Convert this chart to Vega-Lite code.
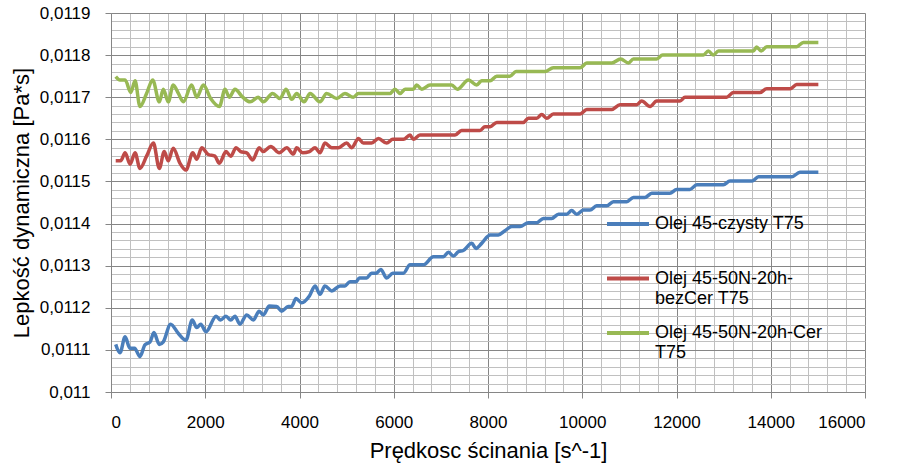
{
 "$schema": "https://vega.github.io/schema/vega-lite/v6.json",
 "width": 754, "height": 379,
 "autosize": {"type": "none"},
 "padding": {"left": 111, "top": 13, "right": 41, "bottom": 79},
 "background": "white",
 "config": {
  "locale": {"number": {"decimal": ",", "thousands": "", "grouping": [3], "currency": ["", ""]}},
  "font": "Liberation Sans",
  "view": {"stroke": null}
 },
 "datasets": {
  "pts": [
   {"x":100,"y":0.011113,"s":"Olej 45-czysty T75"},{"x":190,"y":0.011093,"s":"Olej 45-czysty T75"},{"x":300,"y":0.011131,"s":"Olej 45-czysty T75"},{"x":400,"y":0.011104,"s":"Olej 45-czysty T75"},{"x":500,"y":0.011104,"s":"Olej 45-czysty T75"},{"x":615,"y":0.011084,"s":"Olej 45-czysty T75"},{"x":720,"y":0.011112,"s":"Olej 45-czysty T75"},{"x":830,"y":0.011119,"s":"Olej 45-czysty T75"},{"x":910,"y":0.011141,"s":"Olej 45-czysty T75"},{"x":1025,"y":0.011113,"s":"Olej 45-czysty T75"},{"x":1110,"y":0.011119,"s":"Olej 45-czysty T75"},{"x":1265,"y":0.011161,"s":"Olej 45-czysty T75"},{"x":1430,"y":0.011139,"s":"Olej 45-czysty T75"},{"x":1590,"y":0.011123,"s":"Olej 45-czysty T75"},{"x":1725,"y":0.011171,"s":"Olej 45-czysty T75"},{"x":1820,"y":0.011153,"s":"Olej 45-czysty T75"},{"x":1905,"y":0.011161,"s":"Olej 45-czysty T75"},{"x":2015,"y":0.011143,"s":"Olej 45-czysty T75"},{"x":2230,"y":0.01118,"s":"Olej 45-czysty T75"},{"x":2325,"y":0.011171,"s":"Olej 45-czysty T75"},{"x":2440,"y":0.01118,"s":"Olej 45-czysty T75"},{"x":2540,"y":0.011171,"s":"Olej 45-czysty T75"},{"x":2630,"y":0.01118,"s":"Olej 45-czysty T75"},{"x":2735,"y":0.011161,"s":"Olej 45-czysty T75"},{"x":2880,"y":0.011183,"s":"Olej 45-czysty T75"},{"x":3020,"y":0.011171,"s":"Olej 45-czysty T75"},{"x":3145,"y":0.011192,"s":"Olej 45-czysty T75"},{"x":3230,"y":0.011183,"s":"Olej 45-czysty T75"},{"x":3360,"y":0.011204,"s":"Olej 45-czysty T75"},{"x":3515,"y":0.011203,"s":"Olej 45-czysty T75"},{"x":3620,"y":0.011192,"s":"Olej 45-czysty T75"},{"x":3760,"y":0.011203,"s":"Olej 45-czysty T75"},{"x":3830,"y":0.011203,"s":"Olej 45-czysty T75"},{"x":3925,"y":0.011222,"s":"Olej 45-czysty T75"},{"x":4045,"y":0.011212,"s":"Olej 45-czysty T75"},{"x":4210,"y":0.011228,"s":"Olej 45-czysty T75"},{"x":4330,"y":0.011252,"s":"Olej 45-czysty T75"},{"x":4435,"y":0.011232,"s":"Olej 45-czysty T75"},{"x":4540,"y":0.011252,"s":"Olej 45-czysty T75"},{"x":4685,"y":0.01124,"s":"Olej 45-czysty T75"},{"x":4860,"y":0.011252,"s":"Olej 45-czysty T75"},{"x":4965,"y":0.011252,"s":"Olej 45-czysty T75"},{"x":5070,"y":0.011262,"s":"Olej 45-czysty T75"},{"x":5200,"y":0.011262,"s":"Olej 45-czysty T75"},{"x":5270,"y":0.011271,"s":"Olej 45-czysty T75"},{"x":5425,"y":0.011271,"s":"Olej 45-czysty T75"},{"x":5530,"y":0.011282,"s":"Olej 45-czysty T75"},{"x":5625,"y":0.011282,"s":"Olej 45-czysty T75"},{"x":5725,"y":0.011291,"s":"Olej 45-czysty T75"},{"x":5850,"y":0.011271,"s":"Olej 45-czysty T75"},{"x":5980,"y":0.011282,"s":"Olej 45-czysty T75"},{"x":6205,"y":0.011282,"s":"Olej 45-czysty T75"},{"x":6345,"y":0.011302,"s":"Olej 45-czysty T75"},{"x":6630,"y":0.011302,"s":"Olej 45-czysty T75"},{"x":6840,"y":0.011321,"s":"Olej 45-czysty T75"},{"x":7050,"y":0.011321,"s":"Olej 45-czysty T75"},{"x":7160,"y":0.011332,"s":"Olej 45-czysty T75"},{"x":7265,"y":0.011323,"s":"Olej 45-czysty T75"},{"x":7370,"y":0.011333,"s":"Olej 45-czysty T75"},{"x":7475,"y":0.011336,"s":"Olej 45-czysty T75"},{"x":7655,"y":0.011353,"s":"Olej 45-czysty T75"},{"x":7745,"y":0.011341,"s":"Olej 45-czysty T75"},{"x":7865,"y":0.011353,"s":"Olej 45-czysty T75"},{"x":8045,"y":0.011373,"s":"Olej 45-czysty T75"},{"x":8220,"y":0.011373,"s":"Olej 45-czysty T75"},{"x":8360,"y":0.011383,"s":"Olej 45-czysty T75"},{"x":8505,"y":0.011393,"s":"Olej 45-czysty T75"},{"x":8680,"y":0.011393,"s":"Olej 45-czysty T75"},{"x":8855,"y":0.011402,"s":"Olej 45-czysty T75"},{"x":9035,"y":0.011402,"s":"Olej 45-czysty T75"},{"x":9175,"y":0.011412,"s":"Olej 45-czysty T75"},{"x":9350,"y":0.011412,"s":"Olej 45-czysty T75"},{"x":9495,"y":0.011422,"s":"Olej 45-czysty T75"},{"x":9670,"y":0.011422,"s":"Olej 45-czysty T75"},{"x":9775,"y":0.011431,"s":"Olej 45-czysty T75"},{"x":9880,"y":0.011422,"s":"Olej 45-czysty T75"},{"x":10025,"y":0.011432,"s":"Olej 45-czysty T75"},{"x":10165,"y":0.011432,"s":"Olej 45-czysty T75"},{"x":10305,"y":0.011442,"s":"Olej 45-czysty T75"},{"x":10520,"y":0.011442,"s":"Olej 45-czysty T75"},{"x":10660,"y":0.011452,"s":"Olej 45-czysty T75"},{"x":10945,"y":0.011452,"s":"Olej 45-czysty T75"},{"x":11085,"y":0.011462,"s":"Olej 45-czysty T75"},{"x":11330,"y":0.011462,"s":"Olej 45-czysty T75"},{"x":11475,"y":0.011472,"s":"Olej 45-czysty T75"},{"x":11860,"y":0.011472,"s":"Olej 45-czysty T75"},{"x":12005,"y":0.011481,"s":"Olej 45-czysty T75"},{"x":12285,"y":0.011481,"s":"Olej 45-czysty T75"},{"x":12430,"y":0.011492,"s":"Olej 45-czysty T75"},{"x":12995,"y":0.011492,"s":"Olej 45-czysty T75"},{"x":13135,"y":0.011501,"s":"Olej 45-czysty T75"},{"x":13600,"y":0.011501,"s":"Olej 45-czysty T75"},{"x":13740,"y":0.011511,"s":"Olej 45-czysty T75"},{"x":14445,"y":0.011511,"s":"Olej 45-czysty T75"},{"x":14620,"y":0.011522,"s":"Olej 45-czysty T75"},{"x":15010,"y":0.011522,"s":"Olej 45-czysty T75"},
   {"x":100,"y":0.011549,"s":"Olej 45-50N-20h-bezCer T75"},{"x":205,"y":0.011549,"s":"Olej 45-50N-20h-bezCer T75"},{"x":300,"y":0.011568,"s":"Olej 45-50N-20h-bezCer T75"},{"x":405,"y":0.011541,"s":"Olej 45-50N-20h-bezCer T75"},{"x":510,"y":0.011568,"s":"Olej 45-50N-20h-bezCer T75"},{"x":615,"y":0.011531,"s":"Olej 45-50N-20h-bezCer T75"},{"x":755,"y":0.01156,"s":"Olej 45-50N-20h-bezCer T75"},{"x":900,"y":0.011591,"s":"Olej 45-50N-20h-bezCer T75"},{"x":1025,"y":0.011531,"s":"Olej 45-50N-20h-bezCer T75"},{"x":1130,"y":0.011571,"s":"Olej 45-50N-20h-bezCer T75"},{"x":1215,"y":0.011549,"s":"Olej 45-50N-20h-bezCer T75"},{"x":1320,"y":0.011579,"s":"Olej 45-50N-20h-bezCer T75"},{"x":1465,"y":0.011543,"s":"Olej 45-50N-20h-bezCer T75"},{"x":1590,"y":0.011527,"s":"Olej 45-50N-20h-bezCer T75"},{"x":1735,"y":0.011568,"s":"Olej 45-50N-20h-bezCer T75"},{"x":1820,"y":0.011553,"s":"Olej 45-50N-20h-bezCer T75"},{"x":1925,"y":0.01158,"s":"Olej 45-50N-20h-bezCer T75"},{"x":2065,"y":0.011564,"s":"Olej 45-50N-20h-bezCer T75"},{"x":2205,"y":0.01156,"s":"Olej 45-50N-20h-bezCer T75"},{"x":2300,"y":0.011543,"s":"Olej 45-50N-20h-bezCer T75"},{"x":2440,"y":0.011571,"s":"Olej 45-50N-20h-bezCer T75"},{"x":2540,"y":0.01156,"s":"Olej 45-50N-20h-bezCer T75"},{"x":2655,"y":0.01158,"s":"Olej 45-50N-20h-bezCer T75"},{"x":2750,"y":0.011571,"s":"Olej 45-50N-20h-bezCer T75"},{"x":2880,"y":0.011568,"s":"Olej 45-50N-20h-bezCer T75"},{"x":3005,"y":0.011551,"s":"Olej 45-50N-20h-bezCer T75"},{"x":3145,"y":0.01158,"s":"Olej 45-50N-20h-bezCer T75"},{"x":3230,"y":0.011571,"s":"Olej 45-50N-20h-bezCer T75"},{"x":3390,"y":0.011583,"s":"Olej 45-50N-20h-bezCer T75"},{"x":3570,"y":0.011568,"s":"Olej 45-50N-20h-bezCer T75"},{"x":3730,"y":0.01158,"s":"Olej 45-50N-20h-bezCer T75"},{"x":3870,"y":0.011565,"s":"Olej 45-50N-20h-bezCer T75"},{"x":3940,"y":0.01158,"s":"Olej 45-50N-20h-bezCer T75"},{"x":4070,"y":0.011568,"s":"Olej 45-50N-20h-bezCer T75"},{"x":4210,"y":0.011571,"s":"Olej 45-50N-20h-bezCer T75"},{"x":4330,"y":0.01158,"s":"Olej 45-50N-20h-bezCer T75"},{"x":4435,"y":0.011568,"s":"Olej 45-50N-20h-bezCer T75"},{"x":4540,"y":0.011591,"s":"Olej 45-50N-20h-bezCer T75"},{"x":4685,"y":0.01158,"s":"Olej 45-50N-20h-bezCer T75"},{"x":4825,"y":0.01158,"s":"Olej 45-50N-20h-bezCer T75"},{"x":5000,"y":0.011591,"s":"Olej 45-50N-20h-bezCer T75"},{"x":5110,"y":0.01158,"s":"Olej 45-50N-20h-bezCer T75"},{"x":5250,"y":0.011602,"s":"Olej 45-50N-20h-bezCer T75"},{"x":5355,"y":0.011591,"s":"Olej 45-50N-20h-bezCer T75"},{"x":5530,"y":0.011591,"s":"Olej 45-50N-20h-bezCer T75"},{"x":5675,"y":0.011602,"s":"Olej 45-50N-20h-bezCer T75"},{"x":5850,"y":0.011591,"s":"Olej 45-50N-20h-bezCer T75"},{"x":5980,"y":0.0116,"s":"Olej 45-50N-20h-bezCer T75"},{"x":6205,"y":0.0116,"s":"Olej 45-50N-20h-bezCer T75"},{"x":6345,"y":0.01161,"s":"Olej 45-50N-20h-bezCer T75"},{"x":6415,"y":0.0116,"s":"Olej 45-50N-20h-bezCer T75"},{"x":6555,"y":0.01161,"s":"Olej 45-50N-20h-bezCer T75"},{"x":7300,"y":0.01161,"s":"Olej 45-50N-20h-bezCer T75"},{"x":7440,"y":0.011621,"s":"Olej 45-50N-20h-bezCer T75"},{"x":7830,"y":0.011621,"s":"Olej 45-50N-20h-bezCer T75"},{"x":7935,"y":0.01163,"s":"Olej 45-50N-20h-bezCer T75"},{"x":8045,"y":0.01163,"s":"Olej 45-50N-20h-bezCer T75"},{"x":8185,"y":0.01164,"s":"Olej 45-50N-20h-bezCer T75"},{"x":8750,"y":0.01164,"s":"Olej 45-50N-20h-bezCer T75"},{"x":8855,"y":0.01165,"s":"Olej 45-50N-20h-bezCer T75"},{"x":9035,"y":0.01165,"s":"Olej 45-50N-20h-bezCer T75"},{"x":9140,"y":0.011659,"s":"Olej 45-50N-20h-bezCer T75"},{"x":9245,"y":0.01165,"s":"Olej 45-50N-20h-bezCer T75"},{"x":9385,"y":0.01166,"s":"Olej 45-50N-20h-bezCer T75"},{"x":9955,"y":0.01166,"s":"Olej 45-50N-20h-bezCer T75"},{"x":10095,"y":0.011671,"s":"Olej 45-50N-20h-bezCer T75"},{"x":10625,"y":0.011671,"s":"Olej 45-50N-20h-bezCer T75"},{"x":10800,"y":0.011682,"s":"Olej 45-50N-20h-bezCer T75"},{"x":11155,"y":0.011682,"s":"Olej 45-50N-20h-bezCer T75"},{"x":11260,"y":0.011691,"s":"Olej 45-50N-20h-bezCer T75"},{"x":11440,"y":0.011678,"s":"Olej 45-50N-20h-bezCer T75"},{"x":11580,"y":0.011691,"s":"Olej 45-50N-20h-bezCer T75"},{"x":12075,"y":0.011691,"s":"Olej 45-50N-20h-bezCer T75"},{"x":12180,"y":0.0117,"s":"Olej 45-50N-20h-bezCer T75"},{"x":13065,"y":0.0117,"s":"Olej 45-50N-20h-bezCer T75"},{"x":13205,"y":0.011711,"s":"Olej 45-50N-20h-bezCer T75"},{"x":13770,"y":0.011711,"s":"Olej 45-50N-20h-bezCer T75"},{"x":13915,"y":0.01172,"s":"Olej 45-50N-20h-bezCer T75"},{"x":14410,"y":0.01172,"s":"Olej 45-50N-20h-bezCer T75"},{"x":14550,"y":0.01173,"s":"Olej 45-50N-20h-bezCer T75"},{"x":15010,"y":0.01173,"s":"Olej 45-50N-20h-bezCer T75"},
   {"x":100,"y":0.011749,"s":"Olej 45-50N-20h-Cer T75"},{"x":190,"y":0.011741,"s":"Olej 45-50N-20h-Cer T75"},{"x":300,"y":0.011741,"s":"Olej 45-50N-20h-Cer T75"},{"x":420,"y":0.011711,"s":"Olej 45-50N-20h-Cer T75"},{"x":510,"y":0.011739,"s":"Olej 45-50N-20h-Cer T75"},{"x":615,"y":0.011678,"s":"Olej 45-50N-20h-Cer T75"},{"x":755,"y":0.011709,"s":"Olej 45-50N-20h-Cer T75"},{"x":885,"y":0.011741,"s":"Olej 45-50N-20h-Cer T75"},{"x":1025,"y":0.011689,"s":"Olej 45-50N-20h-Cer T75"},{"x":1110,"y":0.011719,"s":"Olej 45-50N-20h-Cer T75"},{"x":1215,"y":0.011689,"s":"Olej 45-50N-20h-Cer T75"},{"x":1320,"y":0.011729,"s":"Olej 45-50N-20h-Cer T75"},{"x":1430,"y":0.011709,"s":"Olej 45-50N-20h-Cer T75"},{"x":1535,"y":0.011689,"s":"Olej 45-50N-20h-Cer T75"},{"x":1710,"y":0.011729,"s":"Olej 45-50N-20h-Cer T75"},{"x":1820,"y":0.0117,"s":"Olej 45-50N-20h-Cer T75"},{"x":1960,"y":0.011729,"s":"Olej 45-50N-20h-Cer T75"},{"x":2115,"y":0.011697,"s":"Olej 45-50N-20h-Cer T75"},{"x":2300,"y":0.011678,"s":"Olej 45-50N-20h-Cer T75"},{"x":2420,"y":0.011719,"s":"Olej 45-50N-20h-Cer T75"},{"x":2510,"y":0.0117,"s":"Olej 45-50N-20h-Cer T75"},{"x":2630,"y":0.011719,"s":"Olej 45-50N-20h-Cer T75"},{"x":2795,"y":0.0117,"s":"Olej 45-50N-20h-Cer T75"},{"x":2950,"y":0.011689,"s":"Olej 45-50N-20h-Cer T75"},{"x":3125,"y":0.0117,"s":"Olej 45-50N-20h-Cer T75"},{"x":3230,"y":0.011689,"s":"Olej 45-50N-20h-Cer T75"},{"x":3430,"y":0.011709,"s":"Olej 45-50N-20h-Cer T75"},{"x":3585,"y":0.011697,"s":"Olej 45-50N-20h-Cer T75"},{"x":3715,"y":0.011719,"s":"Olej 45-50N-20h-Cer T75"},{"x":3835,"y":0.011695,"s":"Olej 45-50N-20h-Cer T75"},{"x":3940,"y":0.011709,"s":"Olej 45-50N-20h-Cer T75"},{"x":4095,"y":0.011689,"s":"Olej 45-50N-20h-Cer T75"},{"x":4225,"y":0.011709,"s":"Olej 45-50N-20h-Cer T75"},{"x":4435,"y":0.011689,"s":"Olej 45-50N-20h-Cer T75"},{"x":4575,"y":0.011709,"s":"Olej 45-50N-20h-Cer T75"},{"x":4790,"y":0.011697,"s":"Olej 45-50N-20h-Cer T75"},{"x":4965,"y":0.011709,"s":"Olej 45-50N-20h-Cer T75"},{"x":5140,"y":0.0117,"s":"Olej 45-50N-20h-Cer T75"},{"x":5250,"y":0.011709,"s":"Olej 45-50N-20h-Cer T75"},{"x":5920,"y":0.011709,"s":"Olej 45-50N-20h-Cer T75"},{"x":6025,"y":0.011719,"s":"Olej 45-50N-20h-Cer T75"},{"x":6135,"y":0.011709,"s":"Olej 45-50N-20h-Cer T75"},{"x":6240,"y":0.011719,"s":"Olej 45-50N-20h-Cer T75"},{"x":6415,"y":0.011719,"s":"Olej 45-50N-20h-Cer T75"},{"x":6485,"y":0.011729,"s":"Olej 45-50N-20h-Cer T75"},{"x":6595,"y":0.011719,"s":"Olej 45-50N-20h-Cer T75"},{"x":6770,"y":0.011729,"s":"Olej 45-50N-20h-Cer T75"},{"x":7230,"y":0.011729,"s":"Olej 45-50N-20h-Cer T75"},{"x":7350,"y":0.011719,"s":"Olej 45-50N-20h-Cer T75"},{"x":7585,"y":0.011741,"s":"Olej 45-50N-20h-Cer T75"},{"x":7760,"y":0.011729,"s":"Olej 45-50N-20h-Cer T75"},{"x":7865,"y":0.011739,"s":"Olej 45-50N-20h-Cer T75"},{"x":8045,"y":0.011739,"s":"Olej 45-50N-20h-Cer T75"},{"x":8185,"y":0.01175,"s":"Olej 45-50N-20h-Cer T75"},{"x":8465,"y":0.01175,"s":"Olej 45-50N-20h-Cer T75"},{"x":8595,"y":0.011761,"s":"Olej 45-50N-20h-Cer T75"},{"x":9210,"y":0.011761,"s":"Olej 45-50N-20h-Cer T75"},{"x":9385,"y":0.01177,"s":"Olej 45-50N-20h-Cer T75"},{"x":9955,"y":0.01177,"s":"Olej 45-50N-20h-Cer T75"},{"x":10095,"y":0.011781,"s":"Olej 45-50N-20h-Cer T75"},{"x":10625,"y":0.011781,"s":"Olej 45-50N-20h-Cer T75"},{"x":10815,"y":0.011791,"s":"Olej 45-50N-20h-Cer T75"},{"x":10980,"y":0.011781,"s":"Olej 45-50N-20h-Cer T75"},{"x":11085,"y":0.011791,"s":"Olej 45-50N-20h-Cer T75"},{"x":11580,"y":0.011791,"s":"Olej 45-50N-20h-Cer T75"},{"x":11705,"y":0.0118,"s":"Olej 45-50N-20h-Cer T75"},{"x":12570,"y":0.0118,"s":"Olej 45-50N-20h-Cer T75"},{"x":12675,"y":0.01181,"s":"Olej 45-50N-20h-Cer T75"},{"x":12780,"y":0.0118,"s":"Olej 45-50N-20h-Cer T75"},{"x":12890,"y":0.01181,"s":"Olej 45-50N-20h-Cer T75"},{"x":13630,"y":0.01181,"s":"Olej 45-50N-20h-Cer T75"},{"x":13700,"y":0.011819,"s":"Olej 45-50N-20h-Cer T75"},{"x":13795,"y":0.01181,"s":"Olej 45-50N-20h-Cer T75"},{"x":13915,"y":0.01182,"s":"Olej 45-50N-20h-Cer T75"},{"x":14550,"y":0.01182,"s":"Olej 45-50N-20h-Cer T75"},{"x":14690,"y":0.01183,"s":"Olej 45-50N-20h-Cer T75"},{"x":15010,"y":0.01183,"s":"Olej 45-50N-20h-Cer T75"}
  ]
 },
 "data": {"name": "pts"},
 "layer": [
  {
   "mark": {"type": "line", "opacity": 0},
   "encoding": {
    "x": {"field": "x", "type": "quantitative", "scale": {"domain": [0, 16000], "nice": false, "zero": false},
     "axis": {"orient": "top", "values": [0,400,800,1200,1600,2000,2400,2800,3200,3600,4000,4400,4800,5200,5600,6000,6400,6800,7200,7600,8000,8400,8800,9200,9600,10000,10400,10800,11200,11600,12000,12400,12800,13200,13600,14000,14400,14800,15200,15600,16000],
      "grid": true, "gridColor": "#c0c0c0", "gridWidth": 1, "gridOpacity": 1, "labels": false, "ticks": false, "domain": false, "title": null}},
    "y": {"field": "y", "type": "quantitative", "scale": {"domain": [0.011, 0.0119], "nice": false, "zero": false},
     "axis": {"orient": "right", "values": [0.011,0.01102,0.01104,0.01106,0.01108,0.0111,0.01112,0.01114,0.01116,0.01118,0.0112,0.01122,0.01124,0.01126,0.01128,0.0113,0.01132,0.01134,0.01136,0.01138,0.0114,0.01142,0.01144,0.01146,0.01148,0.0115,0.01152,0.01154,0.01156,0.01158,0.0116,0.01162,0.01164,0.01166,0.01168,0.0117,0.01172,0.01174,0.01176,0.01178,0.0118,0.01182,0.01184,0.01186,0.01188,0.0119],
      "grid": true, "gridColor": "#c0c0c0", "gridWidth": 1, "gridOpacity": 1, "labels": false, "ticks": false, "domain": false, "title": null}},
    "detail": {"field": "s", "type": "nominal"}
   }
  },
  {
   "mark": {"type": "line", "strokeWidth": 3.5, "interpolate": "monotone"},
   "encoding": {
    "x": {"field": "x", "type": "quantitative", "scale": {"domain": [0, 16000], "nice": false, "zero": false},
     "axis": {"orient": "bottom", "values": [0,2000,4000,6000,8000,10000,12000,14000,16000], "format": "d",
      "grid": true, "gridColor": "#868686", "gridOpacity": 1, "gridWidth": 1,
      "domainColor": "#868686", "domainWidth": 1, "tickColor": "#868686", "tickSize": 6,
      "labelFontSize": 17, "labelColor": "#000000", "labelPadding": 16,
      "title": "Prędkosc ścinania [s^-1]", "titleFontSize": 22, "titleFontWeight": "normal", "titleColor": "#000000", "titlePadding": 10}},
    "y": {"field": "y", "type": "quantitative", "scale": {"domain": [0.011, 0.0119], "nice": false, "zero": false},
     "axis": {"orient": "left", "values": [0.011,0.0111,0.0112,0.0113,0.0114,0.0115,0.0116,0.0117,0.0118,0.0119], "format": ".4~f",
      "grid": true, "gridColor": "#868686", "gridOpacity": 1, "gridWidth": 1,
      "domainColor": "#868686", "domainWidth": 1, "tickColor": "#868686", "tickSize": 6,
      "labelFontSize": 17, "labelColor": "#000000", "labelPadding": 15,
      "title": "Lepkość dynamiczna [Pa*s]", "titleFontSize": 22, "titleFontWeight": "normal", "titleColor": "#000000", "titlePadding": 6}},
    "color": {"field": "s", "type": "nominal",
     "scale": {"domain": ["Olej 45-czysty T75", "Olej 45-50N-20h-bezCer T75", "Olej 45-50N-20h-Cer T75"], "range": ["#4A7EBB", "#BE4B48", "#98B954"]},
     "legend": {"orient": "none", "legendX": 494, "legendY": 188, "title": null, "padding": 0,
      "symbolType": "stroke", "symbolSize": 1764, "symbolStrokeWidth": 4, "labelOffset": 4,
      "labelFontSize": 18, "labelColor": "#000000", "labelLimit": 0, "labelLineHeight": 24, "rowPadding": 2.5,
      "labelExpr": "datum.label == 'Olej 45-50N-20h-bezCer T75' ? ['Olej 45-50N-20h-', 'bezCer T75'] : datum.label == 'Olej 45-50N-20h-Cer T75' ? ['Olej 45-50N-20h-Cer', 'T75'] : [datum.label, ' ']"}}
   }
  }
 ],
 "resolve": {"axis": {"x": "independent", "y": "independent"}}
}
